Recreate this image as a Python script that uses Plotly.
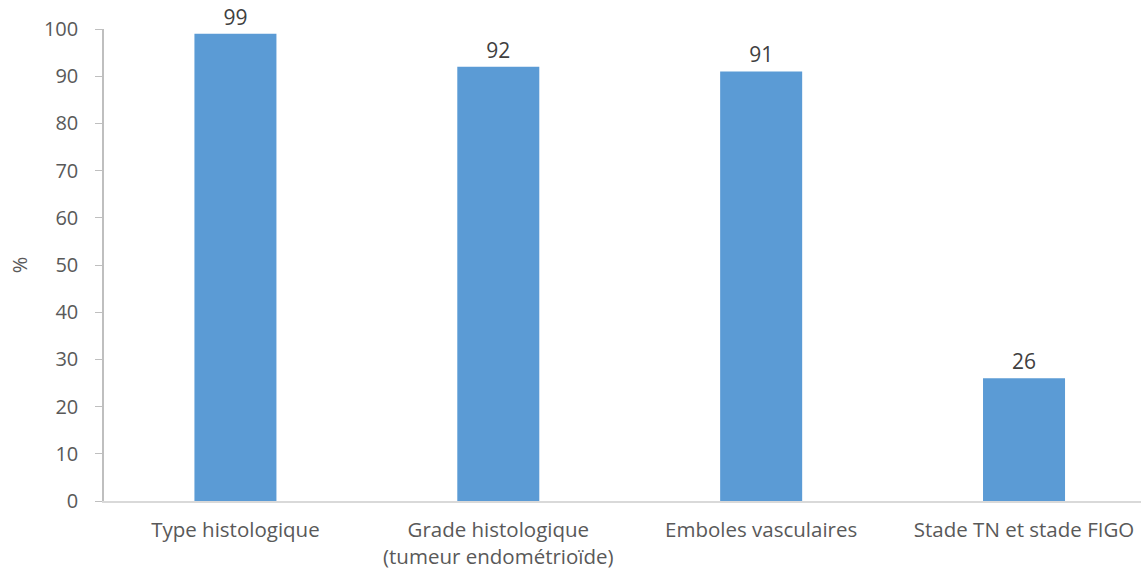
import plotly.graph_objects as go

categories = [
    "Type histologique",
    "Grade histologique<br>(tumeur endométrioïde)",
    "Emboles vasculaires",
    "Stade TN et stade FIGO",
]
values = [99, 92, 91, 26]
y_ticks = [0, 10, 20, 30, 40, 50, 60, 70, 80, 90, 100]

fig = go.Figure(
    go.Bar(
        x=list(range(len(categories))),
        y=values,
        marker=dict(color="#5b9bd5", line=dict(width=0)),
        text=[str(v) for v in values],
        textposition="outside",
        textfont=dict(size=21, color="#404040"),
        cliponaxis=False,
        width=0.312,
    )
)

fig.update_layout(
    width=1141,
    height=570,
    margin=dict(l=104, r=0, t=29, b=69),
    plot_bgcolor="white",
    paper_bgcolor="white",
    font=dict(family="Open Sans, Liberation Sans, sans-serif", color="#595959", size=20),
    showlegend=False,
    xaxis=dict(
        tickmode="array",
        tickvals=list(range(len(categories))),
        ticktext=categories,
        range=[-0.5, 3.445],
        showgrid=False,
        showline=True,
        linecolor="#d9d9d9",
        linewidth=1.5,
        ticks="",
        tickfont=dict(size=20.5, color="#595959"),
        ticklabelstandoff=10,
        automargin=False,
        zeroline=False,
    ),
    yaxis=dict(
        range=[0, 100],
        tickvals=y_ticks,
        showgrid=False,
        showline=True,
        linecolor="#bfbfbf",
        linewidth=1.5,
        ticks="outside",
        ticklen=7,
        tickcolor="#bfbfbf",
        tickfont=dict(size=20, color="#595959"),
        ticklabelstandoff=13,
        automargin=False,
        zeroline=False,
        title=dict(text="%", font=dict(size=20, color="#595959"), standoff=11),
    ),
)

fig.write_html("out.html")
